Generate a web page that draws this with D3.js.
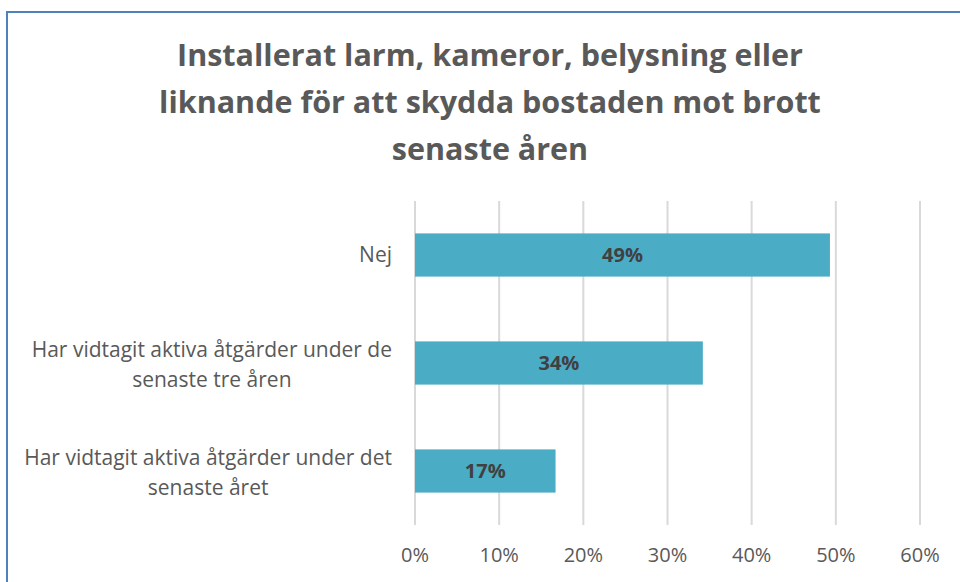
<!DOCTYPE html>
<html><head><meta charset="utf-8">
<script src="https://cdn.jsdelivr.net/npm/d3@7"></script>
<style>body{margin:0;background:#fff}svg{display:block}</style>
</head><body>
<svg id="c" width="960" height="582"></svg>
<script>
const titleLines = ["Installerat larm, kameror, belysning eller","liknande för att skydda bostaden mot brott","senaste åren"];
const categories = [
  ["Nej"],
  ["Har vidtagit aktiva åtgärder under de","senaste tre åren"],
  ["Har vidtagit aktiva åtgärder under det","senaste året"]
];
const values = [0.493, 0.342, 0.167];
const tickValues = [0,0.1,0.2,0.3,0.4,0.5,0.6];

const svg = d3.select("#c");
const font = "'Open Sans', sans-serif";
svg.append("rect").attr("x",7).attr("y",12).attr("width",970).attr("height",600)
  .attr("fill","#fff").attr("stroke","#4f81bd").attr("stroke-width",2);

const m = {left:415, right:920, top:201, bottom:525};
const x = d3.scaleLinear().domain([0,0.6]).range([m.left,m.right]);
const y = d3.scaleBand().domain(d3.range(categories.length)).range([m.top,m.bottom]).paddingInner(0.6).paddingOuter(0.3);

svg.append("g").selectAll("line").data(tickValues).join("line")
  .attr("x1",d=>x(d)).attr("x2",d=>x(d)).attr("y1",m.top).attr("y2",m.bottom)
  .attr("stroke","#d9d9d9").attr("stroke-width",2);

svg.append("g").selectAll("text").data(tickValues).join("text")
  .attr("x",d=>x(d)).attr("y",562).attr("text-anchor","middle")
  .attr("font-family",font).attr("font-size",20).attr("fill","#595959")
  .text(d=>d3.format(".0%")(d));

svg.append("g").selectAll("rect").data(values).join("rect")
  .attr("x",x(0)).attr("y",(d,i)=>y(i)).attr("width",d=>x(d)-x(0)).attr("height",y.bandwidth())
  .attr("fill","#4bacc6");

svg.append("g").selectAll("text").data(values).join("text")
  .attr("x",d=>(x(0)+x(d))/2).attr("y",(d,i)=>y(i)+y.bandwidth()/2+7).attr("text-anchor","middle")
  .attr("font-family",font).attr("font-size",20).attr("font-weight","bold").attr("fill","#404040")
  .text(d=>d3.format(".0%")(d));

categories.forEach((lines,i)=>{
  const g = svg.append("g");
  const cy = y(i)+y.bandwidth()/2 + (lines.length>1?2:0);
  const lh = 30;
  const ts = lines.map((l,j)=>g.append("text")
    .attr("y",cy + (j-(lines.length-1)/2)*lh + 7)
    .attr("font-family",font).attr("font-size",21).attr("fill","#595959").attr("text-anchor","middle").text(l));
  const maxW = d3.max(ts,t=>t.node().getComputedTextLength());
  ts.forEach(t=>t.attr("x",392-maxW/2));
});

svg.append("g").selectAll("text").data(titleLines).join("text")
  .attr("x",490).attr("y",(d,i)=>66+i*47).attr("text-anchor","middle")
  .attr("font-family",font).attr("font-size",30.5).attr("font-weight","bold").attr("fill","#595959")
  .text(d=>d);
</script>
</body></html>
